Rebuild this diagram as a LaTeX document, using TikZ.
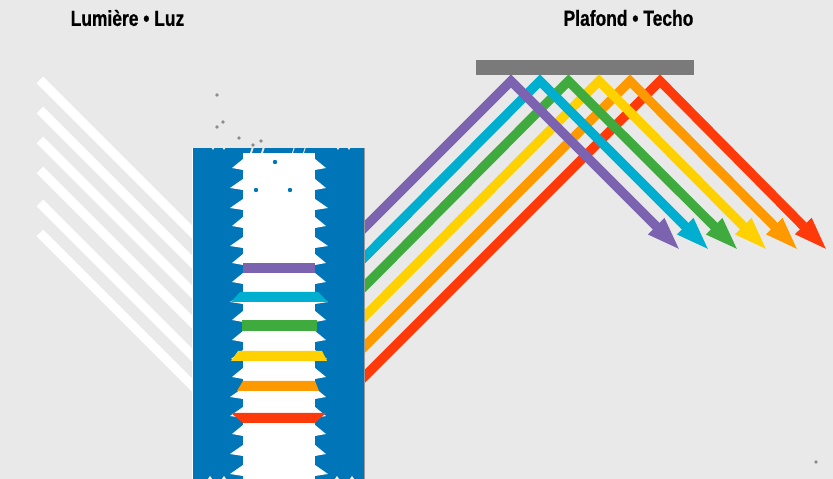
\documentclass[tikz,border=0pt]{standalone}
\usepackage{fontspec}
\setmainfont[FakeStretch=0.8,BoldFeatures={FakeBold=0.6}]{Liberation Sans}
\usetikzlibrary{arrows.meta}
\definecolor{fondo}{HTML}{E9E9E9}
\definecolor{bleu}{HTML}{0075B8}
\definecolor{violet}{HTML}{7B63B0}
\definecolor{cyan}{HTML}{00AECF}
\definecolor{vert}{HTML}{3FAB3F}
\definecolor{jaune}{HTML}{FFD100}
\definecolor{orange}{HTML}{FF9900}
\definecolor{rouge}{HTML}{FF3A0A}
\begin{document}
\begin{tikzpicture}[
    x=0.02cm, y=-0.02cm,
    titre/.style={font=\bfseries\fontsize{12.4}{14}\selectfont, inner sep=0pt},
    rayon/.style={line width=5.3pt, line join=miter, -{Triangle[length=20pt,width=11.5pt]}},
    blanc/.style={line width=5.3pt, white},
    speck/.style={fill=black!45, inner sep=0pt, minimum size=2.1pt, circle},
    speckb/.style={speck, fill=bleu, minimum size=2.5pt}
  ]
  \fill[fondo] (0,0) rectangle (833,479);
  \useasboundingbox (0,0) rectangle (833,479);

  \node[titre] (lumiere) at (127.5,18) {Lumière • Luz};
  \node[titre] (plafond) at (628.5,18) {Plafond • Techo};

  % incoming white light
  \foreach \y in {80,110,140,170,203,233}
    \draw[blanc] (40,\y) -- ++(160,160);

  % mirror
  \node[fill=black!52, inner sep=0pt, minimum width=4.36cm, minimum height=0.3cm] (plafonnier) at (585,67.5) {};

  % reflected beams, red first so that violet lies on top
  \foreach \coul/\y/\ax/\ox in {rouge/377/660/828,orange/347/630/799,jaune/317/599/768,
      vert/287/568.5/739,cyan/258/540/710,violet/228/511/681}
    \draw[rayon, \coul] (344,\y+20) -- (\ax,81) -- (\ox,251);

  % the sample and its clear core
  \node[fill=bleu, inner sep=0pt, minimum width=3.42cm, minimum height=6.62cm] (lame) at (278.5,313.5) {};
  \draw[white, line width=.5pt] (lame.north west) -- (lame.south west);
  \draw[black!40, line width=.5pt] (lame.north east) -- (lame.south east);
  \fill[white] (243,153) rectangle (315,479);
  \foreach \y/\l/\r in {168/232/326,188/230/326,208/230/328,226/232/326,246/230/328,263/232/326,
      282/232/326,302/230/328,320/232/326,340/232/326,359/231/327,377/232/326,397/230/326,
      416/230/326,434/232/326,454/230/326,474/230/328} {
    \fill[white] (243,\y-9) -- (\l,\y) -- (243,\y+2) -- cycle;
    \fill[white] (315,\y-9) -- (\r,\y) -- (315,\y+2) -- cycle;
  }

  % nicks along the top and bottom edges
  \foreach \a/\b in {252/254,263/265,294/295,305/306}
    \fill[fondo] (\a,147) -- (\b,147) -- (\b-2,153) -- (\a-2,153) -- cycle;
  \foreach \x in {211,222,336,347}
    \fill[fondo] (\x,147) -- (\x+4,147) -- (\x+2,150) -- cycle;
  \foreach \x in {208,222,250,266,285,300,335,350}
    \fill[white] (\x,479) -- (\x+2,476) -- (\x+4,479) -- cycle;

  % bands in the core
  \fill[violet] (243,263) rectangle (315,273);
  \fill[cyan] (240,292) -- (318,292) -- (328,302) -- (231,302) -- cycle;
  \fill[vert] (242,320.5) rectangle (317,331);
  \fill[jaune] (238,351) -- (322,351) -- (327,361) -- (231,361) -- cycle;
  \fill[orange] (243,381) -- (315,381) -- (319,391) -- (237,391) -- cycle;
  \fill[rouge] (231,413) -- (326,413) -- (315,423) -- (243,423) -- cycle;

  % specks
  \foreach \x/\y [count=\i] in {217/95,223/122,217/127,239/138,261/141,253/145,816/462}
    \node[speck] (p\i) at (\x,\y) {};
  \foreach \x/\y [count=\i] in {275/162,256/190,290/190}
    \node[speckb] (q\i) at (\x,\y) {};
\end{tikzpicture}
\end{document}
